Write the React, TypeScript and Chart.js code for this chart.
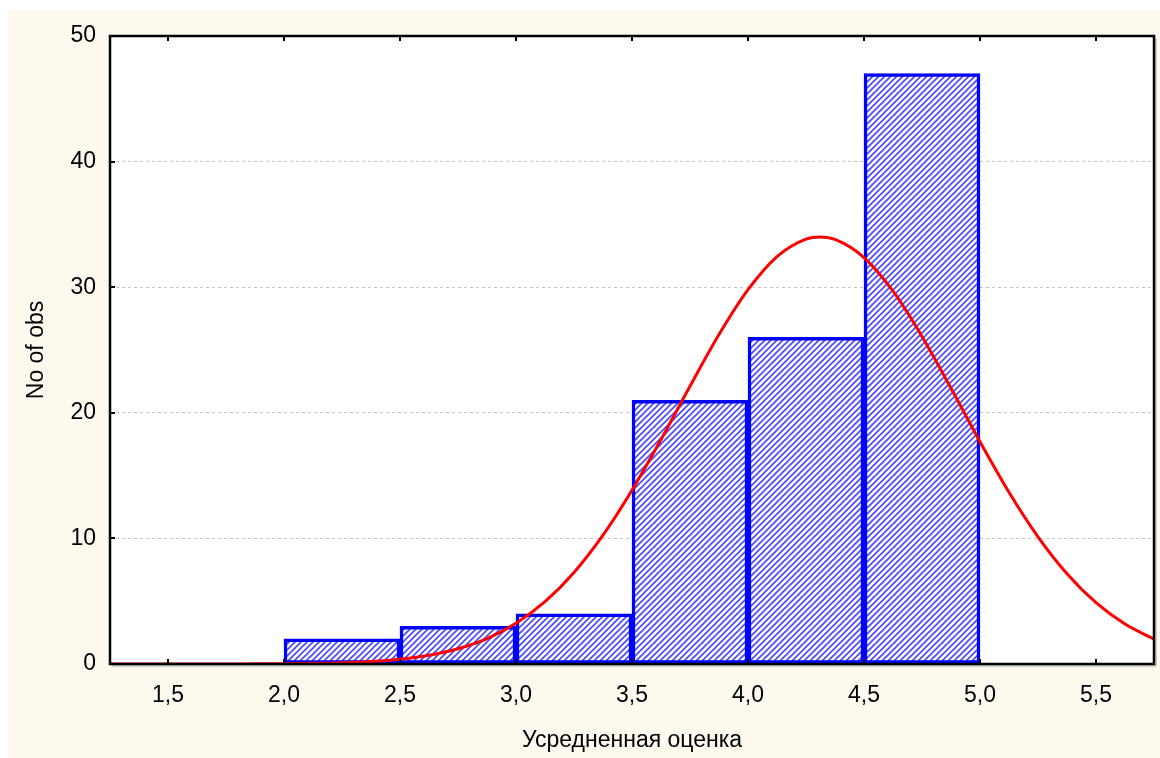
import React, { useEffect, useRef } from "react";
import { Chart, registerables } from "chart.js";

Chart.register(...registerables);

// Histogram bins (centers) and counts
const binCenters = [2.25, 2.75, 3.25, 3.75, 4.25, 4.75];
const binCounts = [2, 3, 4, 21, 26, 47];

// Fitted normal curve
const curveX = [1.25, 1.375, 1.5, 1.625, 1.75, 1.875, 2.0, 2.125, 2.25, 2.375, 2.5, 2.625, 2.75, 2.875, 3.0, 3.125, 3.25, 3.375, 3.5, 3.625, 3.75, 3.875, 4.0, 4.125, 4.25, 4.31, 4.375, 4.5, 4.625, 4.75, 4.875, 5.0, 5.125, 5.25, 5.375, 5.5, 5.625, 5.75];
const curveY = [0, 0, 0, 0, 0, 0.01, 0.02, 0.05, 0.1, 0.2, 0.38, 0.69, 1.21, 2.02, 3.24, 4.96, 7.29, 10.26, 13.84, 17.87, 22.12, 26.23, 29.8, 32.44, 33.83, 34.0, 33.8, 32.36, 29.68, 26.08, 21.95, 17.7, 13.68, 10.13, 7.19, 4.88, 3.18, 1.98];

// Axis ticks
const xTicks = [1.5, 2.0, 2.5, 3.0, 3.5, 4.0, 4.5, 5.0, 5.5];
const yTicks = [0, 10, 20, 30, 40, 50];

const xTitle = "Усредненная оценка";
const yTitle = "No of obs";

const FONT = "'Liberation Sans', Arial, sans-serif";

function makeHatch(): CanvasPattern | string {
  const s = 6;
  const c = document.createElement("canvas");
  c.width = s;
  c.height = s;
  const g = c.getContext("2d");
  if (!g) return "#8888ff";
  g.fillStyle = "#ffffff";
  g.fillRect(0, 0, s, s);
  g.strokeStyle = "#4646ff";
  g.lineWidth = 1.6;
  g.beginPath();
  g.moveTo(-1, s + 1);
  g.lineTo(s + 1, -1);
  g.moveTo(-1, 1);
  g.lineTo(1, -1);
  g.moveTo(s - 1, s + 1);
  g.lineTo(s + 1, s - 1);
  g.stroke();
  const p = g.createPattern(c, "repeat");
  return p || "#8888ff";
}

const framePlugin = {
  id: "frame",
  beforeDraw(chart: any) {
    const { ctx, chartArea: a, width, height } = chart;
    ctx.save();
    ctx.fillStyle = "#fdf9ef";
    ctx.fillRect(0, 0, width, height);
    ctx.fillStyle = "#ffffff";
    ctx.fillRect(a.left, a.top, a.right - a.left, a.bottom - a.top);
    ctx.restore();
  },
  afterDraw(chart: any) {
    const { ctx, chartArea: a, scales } = chart;
    ctx.save();
    ctx.strokeStyle = "#a0a0a0";
    ctx.lineWidth = 1;
    ctx.beginPath();
    ctx.moveTo(a.right + 2, a.top + 2);
    ctx.lineTo(a.right + 2, a.bottom + 2);
    ctx.lineTo(a.left + 2, a.bottom + 2);
    ctx.stroke();
    ctx.strokeStyle = "#000000";
    ctx.lineWidth = 2.5;
    ctx.strokeRect(a.left, a.top, a.right - a.left, a.bottom - a.top);
    ctx.lineWidth = 2;
    ctx.beginPath();
    xTicks.forEach((v) => {
      const px = Math.round(scales.x.getPixelForValue(v));
      ctx.moveTo(px, a.top);
      ctx.lineTo(px, a.top + 5);
      ctx.moveTo(px, a.bottom);
      ctx.lineTo(px, a.bottom - 5);
    });
    yTicks.forEach((v) => {
      const py = Math.round(scales.y.getPixelForValue(v));
      ctx.moveTo(a.left, py);
      ctx.lineTo(a.left + 5, py);
    });
    ctx.stroke();
    ctx.restore();
  },
};

export default function App() {
  const ref = useRef<HTMLCanvasElement | null>(null);

  useEffect(() => {
    if (!ref.current) return;
    const hatch = makeHatch();
    const chart = new Chart(ref.current, {
      type: "bar",
      data: {
        datasets: [
          {
            type: "line",
            label: "Normal",
            data: curveX.map((x, i) => ({ x, y: curveY[i] })),
            borderColor: "#ff0000",
            borderWidth: 3,
            pointRadius: 0,
            fill: false,
            cubicInterpolationMode: "monotone",
            order: 0,
          } as any,
          {
            type: "bar",
            label: "No of obs",
            data: binCenters.map((x, i) => ({ x, y: binCounts[i] })),
            backgroundColor: hatch as any,
            borderColor: "#0000ff",
            borderWidth: 3.5,
            borderSkipped: false,
            barPercentage: 1,
            categoryPercentage: 1,
            order: 1,
          } as any,
        ],
      },
      options: {
        animation: false,
        responsive: false,
        events: [],
        layout: { padding: { left: 0, top: 25, right: 6, bottom: 0 } },
        plugins: { legend: { display: false }, tooltip: { enabled: false } },
        scales: {
          x: {
            type: "linear",
            offset: false,
            min: 1.25,
            max: 5.75,
            afterBuildTicks: (s: any) => {
              s.ticks = xTicks.map((v) => ({ value: v }));
            },
            afterFit: (s: any) => {
              s.height = 94;
              s.paddingLeft = 0;
              s.paddingRight = 0;
            },
            grid: { display: false, drawTicks: false, offset: false },
            border: { display: false },
            ticks: {
              padding: 18,
              color: "#000000",
              font: { family: FONT, size: 23 },
              maxRotation: 0,
              autoSkip: false,
              callback: (v: any) => Number(v).toFixed(1).replace(".", ","),
            },
            title: {
              display: true,
              text: xTitle,
              color: "#000000",
              font: { family: FONT, size: 23 },
              padding: { top: 4, bottom: 4 },
            },
          },
          y: {
            type: "linear",
            min: 0,
            max: 50,
            afterBuildTicks: (s: any) => {
              s.ticks = yTicks.map((v) => ({ value: v }));
            },
            afterFit: (s: any) => {
              s.width = 102;
              s.paddingTop = 0;
              s.paddingBottom = 0;
            },
            grid: {
              drawTicks: false,
              color: (c: any) =>
                c.tick && (c.tick.value === 0 || c.tick.value === 50) ? "rgba(0,0,0,0)" : "#c4c4c4",
              lineWidth: 1,
            },
            border: { display: false, dash: [3, 3] },
            ticks: {
              padding: 14,
              color: "#000000",
              font: { family: FONT, size: 23 },
            },
            title: {
              display: true,
              text: yTitle,
              color: "#000000",
              font: { family: FONT, size: 23 },
              padding: { top: 15, bottom: 15 },
            },
          },
        },
      },
      plugins: [framePlugin],
    });
    return () => chart.destroy();
  }, []);

  return (
    <div style={{ position: "fixed", left: 8, top: 11, width: 1152, height: 747 }}>
      <canvas ref={ref} width={1152} height={747} style={{ display: "block" }} />
    </div>
  );
}
